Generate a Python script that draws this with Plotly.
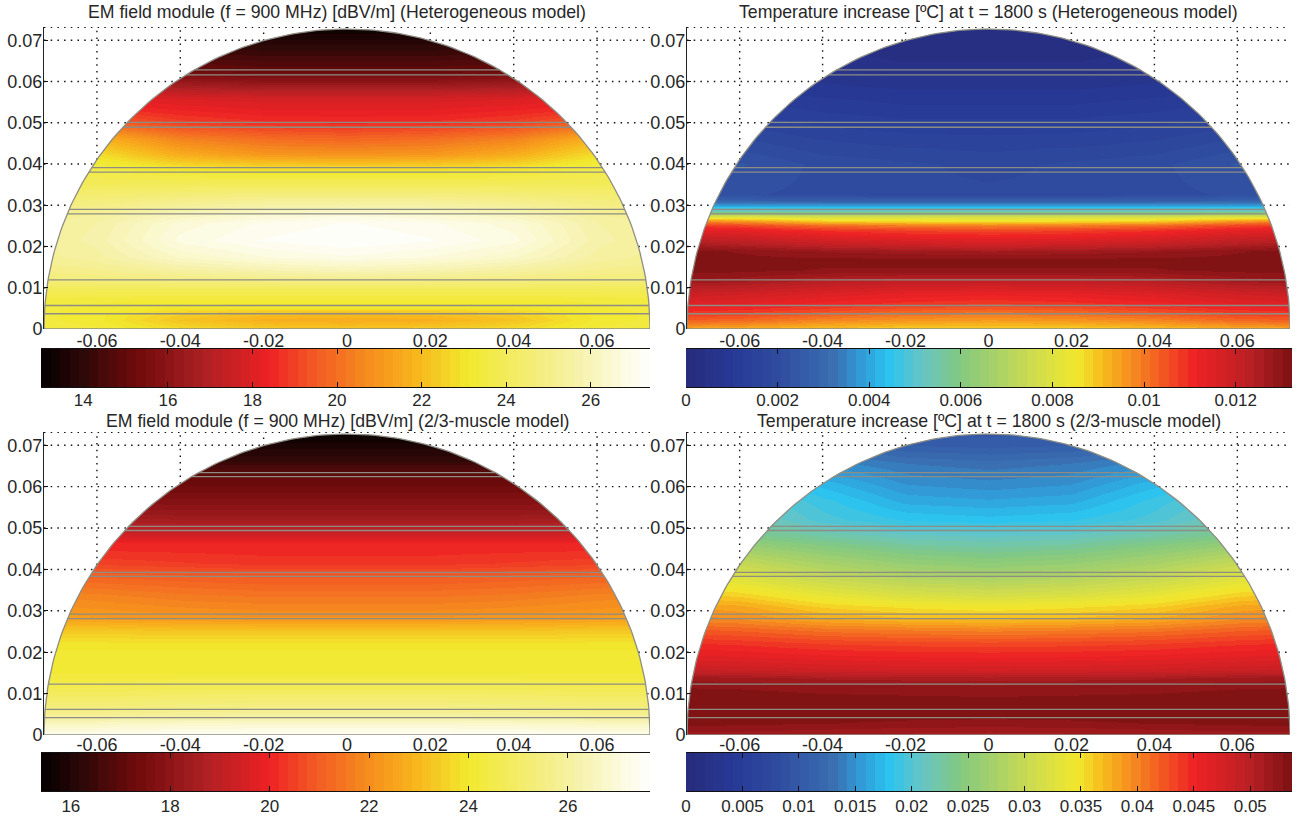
import numpy as np
import plotly.graph_objects as go

W, H = 1300, 821
R = 0.0727
Y_TOP = 0.0732

x_ticks = [-0.06, -0.04, -0.02, 0, 0.02, 0.04, 0.06]
x_tick_text = ["-0.06", "-0.04", "-0.02", "0", "0.02", "0.04", "0.06"]
y_ticks = [0, 0.01, 0.02, 0.03, 0.04, 0.05, 0.06, 0.07]
y_tick_text = ["0", "0.01", "0.02", "0.03", "0.04", "0.05", "0.06", "0.07"]

layers_top = [0.0628, 0.0616, 0.0501, 0.0489, 0.0391, 0.0380, 0.0290, 0.0279, 0.0119, 0.0057, 0.0037]
layers_bottom = [0.0634, 0.0624, 0.0504, 0.0494, 0.0393, 0.0383, 0.0292, 0.0281, 0.0123, 0.0062, 0.0042]

half_x = [0, 0.02, 0.04, 0.06, 0.0727]

# Field values, rows bottom to top, columns at half_x (left half mirrors right half)
y_em_het = [0, 0.0022, 0.0038, 0.005, 0.007, 0.0094, 0.0119, 0.0143, 0.0175, 0.0215, 0.0256, 0.0276, 0.0292, 0.032,
            0.0352, 0.038, 0.04, 0.0425, 0.046, 0.05, 0.053, 0.056, 0.06, 0.063, 0.07, 0.0732]
em_het = [
    [22.3, 22.4, 22.8, 23.4, 23.6],
    [21.6, 21.7, 22.2, 23.2, 23.4],
    [22.0, 22.1, 22.5, 23.2, 23.4],
    [22.9, 22.9, 23.0, 23.3, 23.4],
    [23.3, 23.3, 23.3, 23.4, 23.5],
    [23.9, 23.9, 23.9, 23.9, 23.9],
    [25.0, 24.9, 24.8, 24.7, 24.6],
    [26.0, 25.8, 25.5, 25.1, 25.0],
    [26.9, 26.7, 26.3, 25.5, 25.3],
    [27.4, 27.2, 26.8, 25.7, 25.4],
    [27.2, 27.0, 26.6, 25.6, 25.4],
    [26.7, 26.5, 26.1, 25.4, 25.2],
    [26.0, 25.9, 25.6, 25.1, 25.0],
    [25.0, 25.0, 24.8, 24.6, 24.6],
    [24.0, 24.0, 24.0, 24.0, 24.0],
    [23.2, 23.2, 23.3, 23.7, 23.7],
    [22.2, 22.3, 22.6, 23.4, 23.4],
    [20.9, 21.0, 21.6, 22.8, 23.0],
    [19.8, 20.0, 20.5, 21.8, 22.0],
    [18.6, 18.7, 19.0, 19.8, 20.0],
    [18.2, 18.2, 18.4, 18.7, 18.7],
    [17.8, 17.8, 17.9, 18.1, 18.1],
    [16.0, 16.0, 16.2, 16.5, 16.5],
    [14.9, 14.9, 15.1, 15.4, 15.4],
    [13.7, 13.7, 13.8, 14.0, 14.0],
    [13.2, 13.2, 13.3, 13.4, 13.4],
]

y_temp_het = [0, 0.0022, 0.0042, 0.0062, 0.0086, 0.0119, 0.0143, 0.0167, 0.019, 0.0207, 0.0223, 0.024, 0.0252, 0.0262,
              0.0272, 0.028, 0.0288, 0.0296, 0.0304, 0.0312, 0.0328, 0.04, 0.05, 0.06, 0.065, 0.0732]
temp_het = [
    [0.0088, 0.0088, 0.0090, 0.0092, 0.0093],
    [0.0095, 0.0096, 0.0098, 0.0102, 0.0103],
    [0.0101, 0.0102, 0.0105, 0.0108, 0.0109],
    [0.0108, 0.0109, 0.0111, 0.0114, 0.0115],
    [0.0112, 0.0113, 0.0115, 0.0118, 0.0119],
    [0.0122, 0.0122, 0.0124, 0.0127, 0.0128],
    [0.0130, 0.0130, 0.0130, 0.0131, 0.0131],
    [0.0131, 0.0131, 0.0131, 0.0131, 0.0131],
    [0.0126, 0.0127, 0.0128, 0.0130, 0.0131],
    [0.0118, 0.0119, 0.0121, 0.0124, 0.0126],
    [0.0112, 0.0113, 0.0115, 0.0119, 0.0120],
    [0.0106, 0.0107, 0.0109, 0.0113, 0.0114],
    [0.0098, 0.0099, 0.0101, 0.0106, 0.0108],
    [0.0086, 0.0087, 0.0089, 0.0096, 0.0098],
    [0.0079, 0.0079, 0.0080, 0.0082, 0.0083],
    [0.0062, 0.0062, 0.0063, 0.0064, 0.0064],
    [0.0050, 0.0050, 0.0050, 0.0051, 0.0051],
    [0.0044, 0.0044, 0.0044, 0.0044, 0.0044],
    [0.0036, 0.0036, 0.0036, 0.0036, 0.0036],
    [0.0026, 0.0026, 0.0026, 0.0027, 0.0027],
    [0.0019, 0.0019, 0.0020, 0.0021, 0.0021],
    [0.0018, 0.0019, 0.0020, 0.0023, 0.0024],
    [0.0013, 0.0013, 0.0014, 0.0016, 0.0016],
    [0.0007, 0.0007, 0.0008, 0.0009, 0.0009],
    [0.0004, 0.0004, 0.0005, 0.0005, 0.0005],
    [0.0002, 0.0002, 0.0003, 0.0003, 0.0003],
]

y_em_mus = [0, 0.0028, 0.004, 0.006, 0.012, 0.0157, 0.0214, 0.0254, 0.0286, 0.0335, 0.0383, 0.0415, 0.0464, 0.0496,
            0.0528, 0.0577, 0.0633, 0.0665, 0.0706, 0.0732]
em_mus = [
    [27.5, 27.5, 27.5, 27.4, 27.4],
    [26.8, 26.8, 26.7, 26.6, 26.6],
    [26.2, 26.2, 26.2, 26.1, 26.1],
    [25.7, 25.7, 25.6, 25.5, 25.5],
    [24.6, 24.6, 24.6, 24.5, 24.5],
    [24.1, 24.1, 24.1, 24.1, 24.1],
    [24.0, 24.0, 24.0, 24.0, 24.0],
    [23.2, 23.2, 23.2, 23.3, 23.3],
    [22.1, 22.1, 22.2, 22.3, 22.4],
    [21.5, 21.5, 21.6, 21.8, 21.9],
    [20.9, 20.9, 21.0, 21.1, 21.1],
    [20.3, 20.3, 20.4, 20.5, 20.5],
    [20.0, 20.0, 20.0, 20.0, 20.0],
    [19.0, 19.0, 19.0, 19.1, 19.1],
    [18.3, 18.3, 18.3, 18.4, 18.4],
    [17.6, 17.6, 17.6, 17.6, 17.6],
    [17.0, 17.0, 17.0, 17.0, 17.0],
    [16.3, 16.3, 16.3, 16.3, 16.3],
    [15.8, 15.8, 15.8, 15.8, 15.8],
    [15.5, 15.5, 15.5, 15.5, 15.5],
]

y_temp_mus = [0, 0.0028, 0.006, 0.0093, 0.012, 0.0137, 0.0157, 0.019, 0.0222, 0.0254, 0.0278, 0.031, 0.0343, 0.0383,
              0.0431, 0.048, 0.052, 0.0565, 0.0609, 0.0657, 0.0698, 0.0732]
temp_mus = [
    [0.0507, 0.0509, 0.0512, 0.0515, 0.0516],
    [0.0526, 0.0527, 0.0529, 0.0531, 0.0532],
    [0.0534, 0.0534, 0.0535, 0.0536, 0.0536],
    [0.0529, 0.0530, 0.0531, 0.0534, 0.0534],
    [0.0520, 0.0521, 0.0523, 0.0526, 0.0527],
    [0.0507, 0.0508, 0.0510, 0.0515, 0.0516],
    [0.0478, 0.0479, 0.0481, 0.0486, 0.0488],
    [0.0451, 0.0452, 0.0455, 0.0461, 0.0463],
    [0.0430, 0.0432, 0.0435, 0.0442, 0.0445],
    [0.0400, 0.0403, 0.0408, 0.0418, 0.0422],
    [0.0370, 0.0374, 0.0381, 0.0396, 0.0400],
    [0.0346, 0.0351, 0.0360, 0.0381, 0.0386],
    [0.0310, 0.0316, 0.0331, 0.0354, 0.0360],
    [0.0274, 0.0281, 0.0297, 0.0322, 0.0326],
    [0.0242, 0.0249, 0.0265, 0.0287, 0.0290],
    [0.0209, 0.0213, 0.0226, 0.0240, 0.0242],
    [0.0180, 0.0184, 0.0197, 0.0225, 0.0228],
    [0.0161, 0.0165, 0.0188, 0.0212, 0.0215],
    [0.0145, 0.0150, 0.0172, 0.0185, 0.0188],
    [0.0129, 0.0134, 0.0147, 0.0165, 0.0170],
    [0.0107, 0.0110, 0.0125, 0.0150, 0.0155],
    [0.0097, 0.0100, 0.0115, 0.0140, 0.0145],
]

hot_stops = [(0, "#040000"), (0.07, "#2f0808"), (0.15, "#6b0a0a"), (0.27, "#ae2024"),
             (0.375, "#ee2124"), (0.45, "#f15a24"), (0.55, "#f7941d"), (0.62, "#f7b81d"),
             (0.70, "#f2e92e"), (0.85, "#f5ef94"), (1, "#ffffff")]
jet_stops = [(0, "#282a7b"), (0.08, "#263a96"), (0.15, "#2f4b9f"), (0.24, "#3a6db0"),
             (0.30, "#30a4de"), (0.335, "#2bc3ef"), (0.39, "#68c5c4"), (0.45, "#82c882"),
             (0.558, "#c6d955"), (0.645, "#f2e82e"), (0.69, "#f7b81d"), (0.745, "#f58220"),
             (0.84, "#ee2124"), (0.93, "#b92024"), (1, "#7b1113")]

N_LEVELS = 64


def stepped(stops, n=N_LEVELS):
    pos = [s[0] for s in stops]
    rgb = np.array([[int(s[1][i:i + 2], 16) for i in (1, 3, 5)] for s in stops], float)
    out = []
    for i in range(n):
        t = (i + 0.5) / n
        c = [int(round(np.interp(t, pos, rgb[:, k]))) for k in range(3)]
        col = f"rgb({c[0]},{c[1]},{c[2]})"
        out += [[i / n, col], [(i + 1) / n, col]]
    return out


HOT, JET = stepped(hot_stops), stepped(jet_stops)
TXT = "#262626"
FONT = dict(family="Liberation Sans, Arial, sans-serif", size=18, color=TXT)
BAR_FONT = dict(family="Liberation Sans, Arial, sans-serif", size=17, color=TXT)
TITLE_FONT = dict(family="Liberation Sans, Arial, sans-serif", size=17.7, color=TXT)
GRID = dict(color="#111111", width=1.4, dash="1.5px,5.2px")
EDGE = dict(color="#8d8d84", width=1.3)

panels = [
    dict(title="EM field module (f = 900 MHz) [dBV/m] (Heterogeneous model)", y=y_em_het, z=em_het, cs=HOT,
         rng=(13.0, 27.4), px=(44, 650), py=(27, 329), cx=(41, 650), cy=(349, 387), ty=12, layers=layers_top, xoff=-1, boff=-2,
         cticks=[14, 16, 18, 20, 22, 24, 26], ctext=["14", "16", "18", "20", "22", "24", "26"]),
    dict(title="Temperature increase [ºC] at t = 1800 s (Heterogeneous model)", y=y_temp_het, z=temp_het, cs=JET,
         rng=(0, 0.01323), px=(687, 1290), py=(27, 329), cx=(686, 1292), cy=(349, 387), ty=12, layers=layers_top, xoff=-1, boff=-2,
         cticks=[0, 0.002, 0.004, 0.006, 0.008, 0.01, 0.012], ctext=["0", "0.002", "0.004", "0.006", "0.008", "0.01", "0.012"]),
    dict(title="EM field module (f = 900 MHz) [dBV/m] (2/3-muscle model)", y=y_em_mus, z=em_mus, cs=HOT,
         rng=(15.4, 27.65), px=(44, 650), py=(432, 735), cx=(41, 650), cy=(753, 791), ty=421, layers=layers_bottom, xoff=-3, boff=0,
         cticks=[16, 18, 20, 22, 24, 26], ctext=["16", "18", "20", "22", "24", "26"]),
    dict(title="Temperature increase [ºC] at t = 1800 s (2/3-muscle model)", y=y_temp_mus, z=temp_mus, cs=JET,
         rng=(0, 0.0537), px=(687, 1290), py=(432, 735), cx=(686, 1292), cy=(753, 791), ty=421, layers=layers_bottom, xoff=-3, boff=0,
         cticks=[0, 0.005, 0.01, 0.015, 0.02, 0.025, 0.03, 0.035, 0.04, 0.045, 0.05],
         ctext=["0", "0.005", "0.01", "0.015", "0.02", "0.025", "0.03", "0.035", "0.04", "0.045", "0.05"]),
]

fig = go.Figure()
layout = dict(width=W, height=H, margin=dict(l=0, r=0, t=0, b=0), showlegend=False,
              paper_bgcolor="white", plot_bgcolor="white", font=FONT, annotations=[])


def dom_x(p):
    return [p[0] / W, p[1] / W]


def dom_y(p):
    return [1 - p[1] / H, 1 - p[0] / H]


full_x = [-v for v in half_x[:0:-1]] + half_x
theta = np.linspace(np.pi, 0, 181)
arc_x, arc_y = R * np.cos(theta), R * np.sin(theta)

for i, p in enumerate(panels):
    a = 2 * i + 1
    b = 2 * i + 2
    xa, ya = f"x{a}", f"y{a}"
    xb, yb = f"x{b}", f"y{b}"
    z = [row[:0:-1] + row for row in p["z"]]
    fig.add_trace(go.Heatmap(x=full_x, y=p["y"], z=z, zmin=p["rng"][0], zmax=p["rng"][1], colorscale=p["cs"],
                             zsmooth="best", showscale=False, hoverinfo="skip", xaxis=xa, yaxis=ya))
    # white cover outside the half disc
    fig.add_trace(go.Scatter(x=list(arc_x) + [R, R, -R, -R], y=list(arc_y) + [Y_TOP + 0.001, Y_TOP + 0.001, Y_TOP + 0.001, 0],
                             mode="lines", line=dict(width=0, color="white"), fill="toself", fillcolor="white",
                             hoverinfo="skip", xaxis=xa, yaxis=ya))
    # dotted grid, visible only outside the half disc
    for t in [v for v in x_ticks if abs(v) > 0.001]:
        fig.add_trace(go.Scatter(x=[t, t], y=[np.sqrt(R * R - t * t), Y_TOP], mode="lines", line=GRID,
                                 hoverinfo="skip", xaxis=xa, yaxis=ya))
    for t in y_ticks[1:] + [Y_TOP - 0.0001]:
        e = np.sqrt(max(R * R - t * t, 0))
        fig.add_trace(go.Scatter(x=[-R, -e, None, e, R], y=[t, t, None, t, t], mode="lines", line=GRID,
                                 hoverinfo="skip", xaxis=xa, yaxis=ya))
    # material layer boundaries
    for t in p["layers"]:
        e = np.sqrt(R * R - t * t)
        fig.add_trace(go.Scatter(x=[-e, e], y=[t, t], mode="lines", line=EDGE, hoverinfo="skip", xaxis=xa, yaxis=ya))
    # outline
    fig.add_trace(go.Scatter(x=list(arc_x) + [-R], y=list(arc_y) + [0], mode="lines", line=EDGE,
                             hoverinfo="skip", xaxis=xa, yaxis=ya))

    layout[f"xaxis{a}"] = dict(domain=dom_x(p["px"]), range=[-R, R], anchor=ya, tickvals=x_ticks, ticktext=x_tick_text,
                               ticks="", showgrid=False, zeroline=False, showline=False, tickfont=FONT,
                               tickangle=0, automargin=False, ticklabelstandoff=p["xoff"])
    layout[f"yaxis{a}"] = dict(domain=dom_y(p["py"]), range=[0, Y_TOP], anchor=xa, tickvals=y_ticks, ticktext=y_tick_text,
                               ticks="inside", ticklen=4, tickcolor="#111111", showgrid=False, zeroline=False,
                               showline=True, linecolor="#222222", linewidth=1, tickfont=FONT, automargin=False,
                               ticklabelstandoff=-3)

    lo, hi = p["rng"]
    edges = np.linspace(lo, hi, N_LEVELS + 1)
    ramp = (edges[:-1] + edges[1:]) / 2
    fig.add_trace(go.Heatmap(x=ramp, y=[0, 1], z=[list(ramp), list(ramp)], zmin=lo, zmax=hi, colorscale=p["cs"],
                             showscale=False, hoverinfo="skip", xaxis=xb, yaxis=yb))
    layout[f"xaxis{b}"] = dict(domain=dom_x(p["cx"]), range=[lo, hi], anchor=yb, tickvals=p["cticks"], ticktext=p["ctext"],
                               ticks="inside", ticklen=5, tickcolor="#111111", mirror="ticks", showline=True,
                               linecolor="#111111", linewidth=1, showgrid=False, zeroline=False, tickfont=BAR_FONT,
                               tickangle=0, automargin=False, ticklabelstandoff=p["boff"])
    layout[f"yaxis{b}"] = dict(domain=dom_y(p["cy"]), range=[-0.5, 1.5], anchor=xb, showticklabels=False, ticks="",
                               showgrid=False, zeroline=False, showline=False, automargin=False)

    layout["annotations"].append(dict(text=p["title"], xref="paper", yref="paper",
                                      x=((p["px"][0] + p["px"][1]) / 2 - 10 * (i % 2 == 0)) / W, y=1 - p["ty"] / H,
                                      xanchor="center", yanchor="middle", showarrow=False, font=TITLE_FONT))

fig.update_layout(**layout)
fig.write_html("out.html", config=dict(displayModeBar=False),
               post_script="document.body.style.margin='0';document.body.style.overflow='hidden';")
